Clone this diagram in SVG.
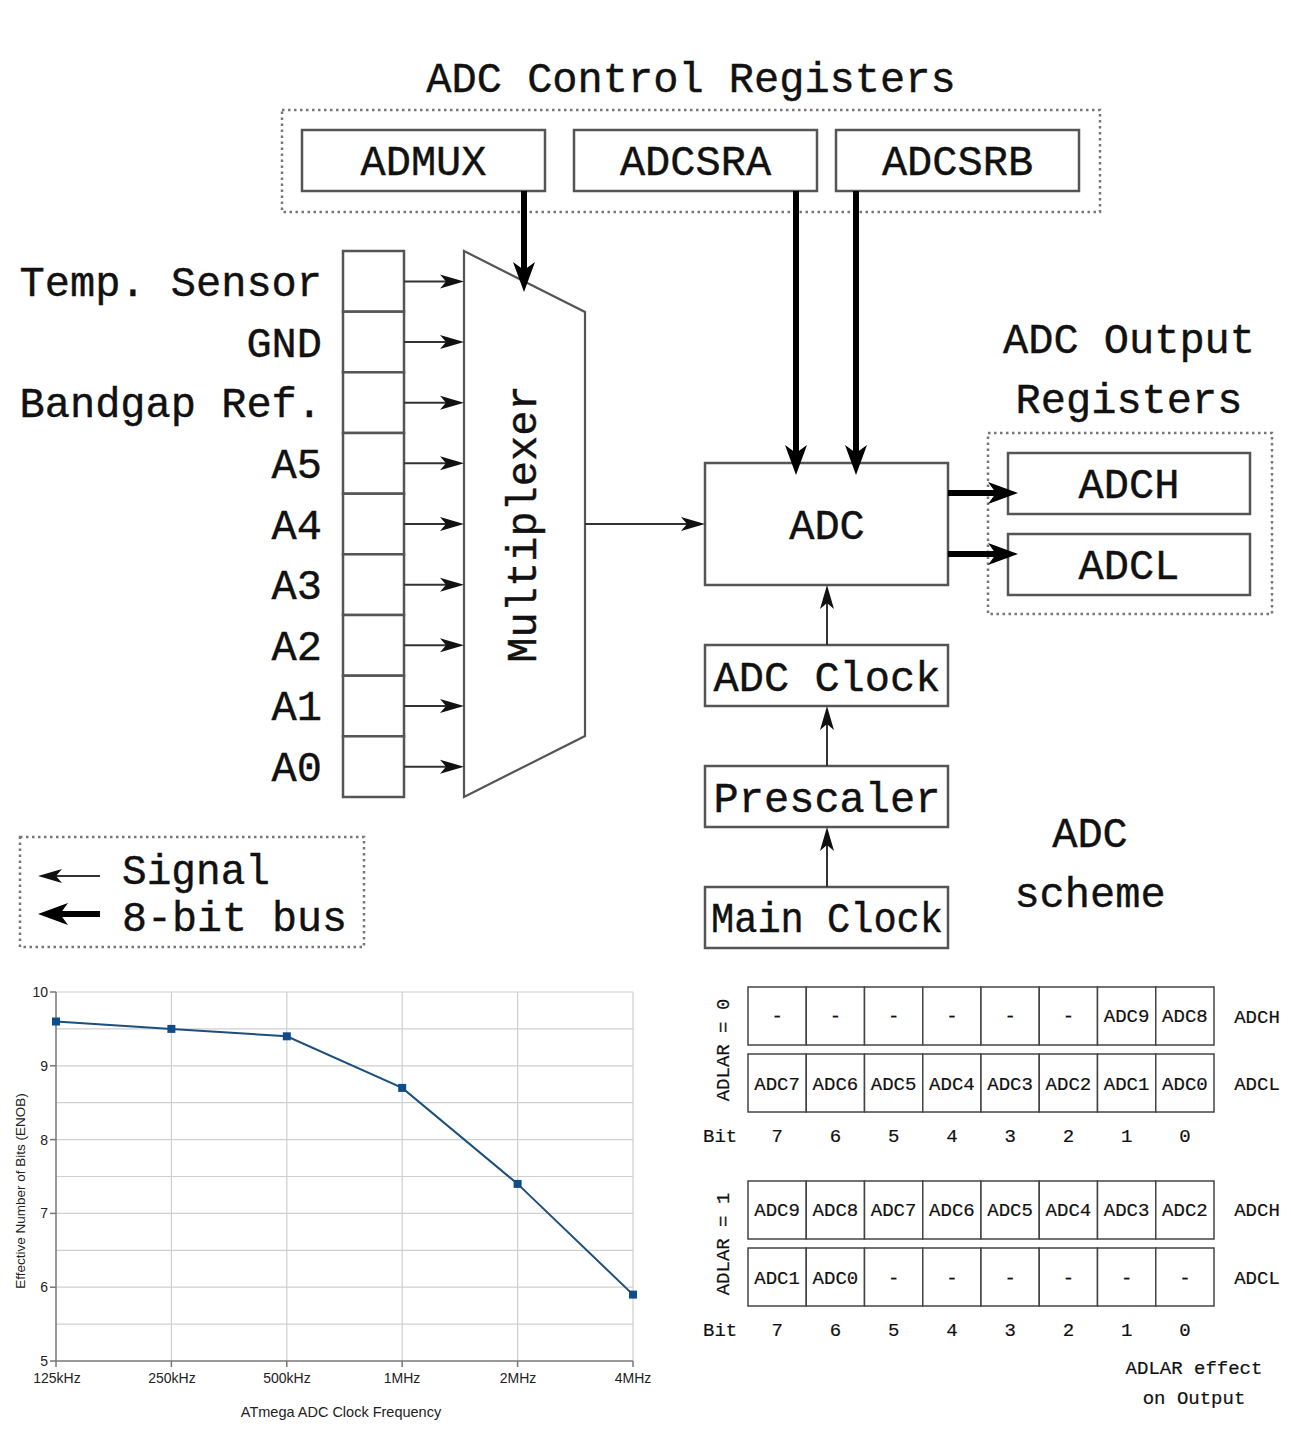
<svg xmlns="http://www.w3.org/2000/svg" width="1291" height="1433" viewBox="0 0 1291 1433">
<style>
.t{font-family:"Liberation Mono","DejaVu Sans Mono",monospace;font-size:42px;fill:#111;stroke:#111;stroke-width:0.4}
.s{font-family:"Liberation Mono","DejaVu Sans Mono",monospace;font-size:19px;fill:#111;stroke:#111;stroke-width:0.2}
.c{text-anchor:middle}
.e{text-anchor:end}
.box{fill:#fff;stroke:#555;stroke-width:2.5}
.dot{fill:none;stroke:#777;stroke-width:2.5;stroke-dasharray:2.5 3.5}
.thin{stroke:#333;stroke-width:2;fill:none;marker-end:url(#ah)}
.thick{stroke:#000;stroke-width:6;fill:none;marker-end:url(#bh)}
.cell{fill:#fff;stroke:#444;stroke-width:1.5}
.grid{stroke:#cfcfcf;stroke-width:1.2}
.ax{stroke:#777;stroke-width:1.5}
.ct{font-family:"Liberation Sans",Arial,sans-serif;font-size:14px;fill:#222}
</style>
<defs>
<marker id="ah" markerUnits="userSpaceOnUse" markerWidth="24" markerHeight="16" refX="16" refY="8" orient="auto"><path d="M0,1 L24,8 L0,15 L6,8 z" fill="#111"/></marker>
<marker id="bh" markerUnits="userSpaceOnUse" markerWidth="30" markerHeight="22" refX="18" refY="11" orient="auto"><path d="M0,0 L30,11 L0,22 L8,11 z" fill="#000"/></marker>
</defs>
<rect width="1291" height="1433" fill="#fff"/>

<g id="control-registers">
<text class="t c" x="691" y="92">ADC Control Registers</text>
<rect class="dot" x="282" y="110" width="818" height="102"/>
</g>
<g id="admux"><rect class="box" x="302" y="130" width="243" height="61"/><text class="t c" x="423.5" y="175">ADMUX</text></g>
<g id="adcsra"><rect class="box" x="574" y="130" width="243" height="61"/><text class="t c" x="695.5" y="175">ADCSRA</text></g>
<g id="adcsrb"><rect class="box" x="836" y="130" width="243" height="61"/><text class="t c" x="957.5" y="175">ADCSRB</text></g>

<g id="inputs">
<rect class="box" x="343" y="251" width="61" height="60.7"/>
<rect class="box" x="343" y="311.7" width="61" height="60.7"/>
<rect class="box" x="343" y="372.3" width="61" height="60.7"/>
<rect class="box" x="343" y="433" width="61" height="60.7"/>
<rect class="box" x="343" y="493.7" width="61" height="60.7"/>
<rect class="box" x="343" y="554.3" width="61" height="60.7"/>
<rect class="box" x="343" y="615" width="61" height="60.7"/>
<rect class="box" x="343" y="675.7" width="61" height="60.7"/>
<rect class="box" x="343" y="736.3" width="61" height="60.7"/>
<text class="t e" x="322" y="296">Temp. Sensor</text>
<text class="t e" x="322" y="357">GND</text>
<text class="t e" x="322" y="417">Bandgap Ref.</text>
<text class="t e" x="322" y="478">A5</text>
<text class="t e" x="322" y="539">A4</text>
<text class="t e" x="322" y="599">A3</text>
<text class="t e" x="322" y="660">A2</text>
<text class="t e" x="322" y="720">A1</text>
<text class="t e" x="322" y="781">A0</text>
</g>

<g id="multiplexer">
<path d="M464,251 L585,312 L585,736 L464,797 Z" fill="#fff" stroke="#555" stroke-width="2.2"/>
<text class="t c" transform="translate(536,524) rotate(-90)" x="0" y="0">Multiplexer</text>
</g>

<g id="adc"><rect class="box" x="705" y="463" width="243" height="122"/><text class="t c" x="827" y="539">ADC</text></g>

<g id="output-registers">
<text class="t c" x="1129" y="353">ADC Output</text>
<text class="t c" x="1129" y="413">Registers</text>
<rect class="dot" x="988" y="433" width="284" height="181"/>
</g>
<g id="adch"><rect class="box" x="1008" y="453" width="242" height="61"/><text class="t c" x="1129" y="498">ADCH</text></g>
<g id="adcl"><rect class="box" x="1008" y="534" width="242" height="61"/><text class="t c" x="1129" y="579">ADCL</text></g>

<g id="adc-clock"><rect class="box" x="705" y="645" width="243" height="61"/><text class="t c" x="827" y="691">ADC Clock</text></g>
<g id="prescaler"><rect class="box" x="705" y="766" width="243" height="61"/><text class="t c" x="827" y="812">Prescaler</text></g>
<g id="main-clock"><rect class="box" x="705" y="887" width="243" height="61"/><text class="t c" x="827" y="932" textLength="232" lengthAdjust="spacingAndGlyphs">Main Clock</text></g>

<g id="scheme-label">
<text class="t c" x="1090" y="847">ADC</text>
<text class="t c" x="1090" y="907">scheme</text>
</g>

<g id="legend">
<rect class="dot" x="20" y="837" width="344" height="110"/>
<line class="thin" x1="100" y1="876" x2="46" y2="876"/>
<line class="thick" x1="100" y1="914" x2="50" y2="914"/>
<text class="t" x="122" y="884" font-size="35" textLength="148" lengthAdjust="spacingAndGlyphs">Signal</text>
<text class="t" x="122" y="931" font-size="35" textLength="225" lengthAdjust="spacingAndGlyphs">8-bit bus</text>
</g>

<g id="connectors">
<line class="thick" x1="524" y1="191" x2="524" y2="280"/>
<line class="thick" x1="796" y1="191" x2="796" y2="463"/>
<line class="thick" x1="856" y1="191" x2="856" y2="463"/>
<line class="thin" x1="404" y1="281.5" x2="456" y2="281.5"/>
<line class="thin" x1="404" y1="342" x2="456" y2="342"/>
<line class="thin" x1="404" y1="402.7" x2="456" y2="402.7"/>
<line class="thin" x1="404" y1="463.3" x2="456" y2="463.3"/>
<line class="thin" x1="404" y1="524" x2="456" y2="524"/>
<line class="thin" x1="404" y1="584.7" x2="456" y2="584.7"/>
<line class="thin" x1="404" y1="645.3" x2="456" y2="645.3"/>
<line class="thin" x1="404" y1="706" x2="456" y2="706"/>
<line class="thin" x1="404" y1="766.7" x2="456" y2="766.7"/>
<line class="thin" x1="585" y1="524" x2="697" y2="524"/>
<line class="thick" x1="948" y1="493" x2="1006" y2="493"/>
<line class="thick" x1="948" y1="554" x2="1006" y2="554"/>
<line class="thin" x1="827" y1="645" x2="827" y2="593"/>
<line class="thin" x1="827" y1="766" x2="827" y2="714"/>
<line class="thin" x1="827" y1="887" x2="827" y2="835"/>
</g>

<g id="chart">
<g>
<line class="grid" x1="56" y1="992" x2="633" y2="992"/>
<line class="grid" x1="56" y1="1028.9" x2="633" y2="1028.9"/>
<line class="grid" x1="56" y1="1065.8" x2="633" y2="1065.8"/>
<line class="grid" x1="56" y1="1102.7" x2="633" y2="1102.7"/>
<line class="grid" x1="56" y1="1139.6" x2="633" y2="1139.6"/>
<line class="grid" x1="56" y1="1176.5" x2="633" y2="1176.5"/>
<line class="grid" x1="56" y1="1213.4" x2="633" y2="1213.4"/>
<line class="grid" x1="56" y1="1250.3" x2="633" y2="1250.3"/>
<line class="grid" x1="56" y1="1287.2" x2="633" y2="1287.2"/>
<line class="grid" x1="56" y1="1324.1" x2="633" y2="1324.1"/>
<line class="grid" x1="171.4" y1="992" x2="171.4" y2="1361"/>
<line class="grid" x1="286.8" y1="992" x2="286.8" y2="1361"/>
<line class="grid" x1="402.2" y1="992" x2="402.2" y2="1361"/>
<line class="grid" x1="517.6" y1="992" x2="517.6" y2="1361"/>
<line class="grid" x1="633" y1="992" x2="633" y2="1361"/>
</g>
<g>
<line class="ax" x1="56" y1="992" x2="56" y2="1361"/>
<line class="ax" x1="56" y1="1361" x2="633" y2="1361"/>
<line class="ax" x1="50" y1="992" x2="56" y2="992"/>
<line class="ax" x1="50" y1="1065.8" x2="56" y2="1065.8"/>
<line class="ax" x1="50" y1="1139.6" x2="56" y2="1139.6"/>
<line class="ax" x1="50" y1="1213.4" x2="56" y2="1213.4"/>
<line class="ax" x1="50" y1="1287.2" x2="56" y2="1287.2"/>
<line class="ax" x1="50" y1="1361" x2="56" y2="1361"/>
<line class="ax" x1="56" y1="1361" x2="56" y2="1367"/>
<line class="ax" x1="171.4" y1="1361" x2="171.4" y2="1367"/>
<line class="ax" x1="286.8" y1="1361" x2="286.8" y2="1367"/>
<line class="ax" x1="402.2" y1="1361" x2="402.2" y2="1367"/>
<line class="ax" x1="517.6" y1="1361" x2="517.6" y2="1367"/>
<line class="ax" x1="633" y1="1361" x2="633" y2="1367"/>
</g>
<g class="ct">
<text x="48" y="997" text-anchor="end">10</text>
<text x="48" y="1071" text-anchor="end">9</text>
<text x="48" y="1145" text-anchor="end">8</text>
<text x="48" y="1218" text-anchor="end">7</text>
<text x="48" y="1292" text-anchor="end">6</text>
<text x="48" y="1366" text-anchor="end">5</text>
<text x="57" y="1383" text-anchor="middle">125kHz</text>
<text x="172" y="1383" text-anchor="middle">250kHz</text>
<text x="287" y="1383" text-anchor="middle">500kHz</text>
<text x="402" y="1383" text-anchor="middle">1MHz</text>
<text x="518" y="1383" text-anchor="middle">2MHz</text>
<text x="633" y="1383" text-anchor="middle">4MHz</text>
<text x="341" y="1417" text-anchor="middle" font-size="14.5">ATmega ADC Clock Frequency</text>
<text transform="translate(25,1191) rotate(-90)" text-anchor="middle" font-size="13.5">Effective Number of Bits (ENOB)</text>
</g>
<polyline points="56,1021.5 171.4,1028.9 286.8,1036.3 402.2,1087.9 517.6,1183.9 633,1294.6" fill="none" stroke="#1d4f7c" stroke-width="2"/>
<g fill="#0f4c8a">
<rect x="52" y="1017.5" width="8" height="8"/>
<rect x="167.4" y="1024.9" width="8" height="8"/>
<rect x="282.8" y="1032.3" width="8" height="8"/>
<rect x="398.2" y="1083.9" width="8" height="8"/>
<rect x="513.6" y="1179.9" width="8" height="8"/>
<rect x="629" y="1290.6" width="8" height="8"/>
</g>
</g>

<g id="adlar0">
<text class="s c" transform="translate(729,1050) rotate(-90)">ADLAR = 0</text>
<g>
<rect class="cell" x="748" y="987" width="58.25" height="58"/>
<rect class="cell" x="806.25" y="987" width="58.25" height="58"/>
<rect class="cell" x="864.5" y="987" width="58.25" height="58"/>
<rect class="cell" x="922.75" y="987" width="58.25" height="58"/>
<rect class="cell" x="981" y="987" width="58.25" height="58"/>
<rect class="cell" x="1039.25" y="987" width="58.25" height="58"/>
<rect class="cell" x="1097.5" y="987" width="58.25" height="58"/>
<rect class="cell" x="1155.75" y="987" width="58.25" height="58"/>
<rect class="cell" x="748" y="1054" width="58.25" height="58"/>
<rect class="cell" x="806.25" y="1054" width="58.25" height="58"/>
<rect class="cell" x="864.5" y="1054" width="58.25" height="58"/>
<rect class="cell" x="922.75" y="1054" width="58.25" height="58"/>
<rect class="cell" x="981" y="1054" width="58.25" height="58"/>
<rect class="cell" x="1039.25" y="1054" width="58.25" height="58"/>
<rect class="cell" x="1097.5" y="1054" width="58.25" height="58"/>
<rect class="cell" x="1155.75" y="1054" width="58.25" height="58"/>
</g>
<text class="s c" x="777.1" y="1022">-</text>
<text class="s c" x="835.4" y="1022">-</text>
<text class="s c" x="893.6" y="1022">-</text>
<text class="s c" x="951.9" y="1022">-</text>
<text class="s c" x="1010.1" y="1022">-</text>
<text class="s c" x="1068.4" y="1022">-</text>
<text class="s c" x="1126.6" y="1022">ADC9</text>
<text class="s c" x="1184.9" y="1022">ADC8</text>
<text class="s c" x="1257" y="1023">ADCH</text>
<text class="s c" x="777.1" y="1090">ADC7</text>
<text class="s c" x="835.4" y="1090">ADC6</text>
<text class="s c" x="893.6" y="1090">ADC5</text>
<text class="s c" x="951.9" y="1090">ADC4</text>
<text class="s c" x="1010.1" y="1090">ADC3</text>
<text class="s c" x="1068.4" y="1090">ADC2</text>
<text class="s c" x="1126.6" y="1090">ADC1</text>
<text class="s c" x="1184.9" y="1090">ADC0</text>
<text class="s c" x="1257" y="1090">ADCL</text>
<text class="s" x="703" y="1142">Bit</text>
<text class="s c" x="777.1" y="1142">7</text>
<text class="s c" x="835.4" y="1142">6</text>
<text class="s c" x="893.6" y="1142">5</text>
<text class="s c" x="951.9" y="1142">4</text>
<text class="s c" x="1010.1" y="1142">3</text>
<text class="s c" x="1068.4" y="1142">2</text>
<text class="s c" x="1126.6" y="1142">1</text>
<text class="s c" x="1184.9" y="1142">0</text>
</g>

<g id="adlar1">
<text class="s c" transform="translate(729,1244) rotate(-90)">ADLAR = 1</text>
<g>
<rect class="cell" x="748" y="1181" width="58.25" height="58"/>
<rect class="cell" x="806.25" y="1181" width="58.25" height="58"/>
<rect class="cell" x="864.5" y="1181" width="58.25" height="58"/>
<rect class="cell" x="922.75" y="1181" width="58.25" height="58"/>
<rect class="cell" x="981" y="1181" width="58.25" height="58"/>
<rect class="cell" x="1039.25" y="1181" width="58.25" height="58"/>
<rect class="cell" x="1097.5" y="1181" width="58.25" height="58"/>
<rect class="cell" x="1155.75" y="1181" width="58.25" height="58"/>
<rect class="cell" x="748" y="1248" width="58.25" height="58"/>
<rect class="cell" x="806.25" y="1248" width="58.25" height="58"/>
<rect class="cell" x="864.5" y="1248" width="58.25" height="58"/>
<rect class="cell" x="922.75" y="1248" width="58.25" height="58"/>
<rect class="cell" x="981" y="1248" width="58.25" height="58"/>
<rect class="cell" x="1039.25" y="1248" width="58.25" height="58"/>
<rect class="cell" x="1097.5" y="1248" width="58.25" height="58"/>
<rect class="cell" x="1155.75" y="1248" width="58.25" height="58"/>
</g>
<text class="s c" x="777.1" y="1216">ADC9</text>
<text class="s c" x="835.4" y="1216">ADC8</text>
<text class="s c" x="893.6" y="1216">ADC7</text>
<text class="s c" x="951.9" y="1216">ADC6</text>
<text class="s c" x="1010.1" y="1216">ADC5</text>
<text class="s c" x="1068.4" y="1216">ADC4</text>
<text class="s c" x="1126.6" y="1216">ADC3</text>
<text class="s c" x="1184.9" y="1216">ADC2</text>
<text class="s c" x="1257" y="1216">ADCH</text>
<text class="s c" x="777.1" y="1284">ADC1</text>
<text class="s c" x="835.4" y="1284">ADC0</text>
<text class="s c" x="893.6" y="1284">-</text>
<text class="s c" x="951.9" y="1284">-</text>
<text class="s c" x="1010.1" y="1284">-</text>
<text class="s c" x="1068.4" y="1284">-</text>
<text class="s c" x="1126.6" y="1284">-</text>
<text class="s c" x="1184.9" y="1284">-</text>
<text class="s c" x="1257" y="1284">ADCL</text>
<text class="s" x="703" y="1336">Bit</text>
<text class="s c" x="777.1" y="1336">7</text>
<text class="s c" x="835.4" y="1336">6</text>
<text class="s c" x="893.6" y="1336">5</text>
<text class="s c" x="951.9" y="1336">4</text>
<text class="s c" x="1010.1" y="1336">3</text>
<text class="s c" x="1068.4" y="1336">2</text>
<text class="s c" x="1126.6" y="1336">1</text>
<text class="s c" x="1184.9" y="1336">0</text>
<text class="s c" x="1194" y="1374" font-size="20">ADLAR effect</text>
<text class="s c" x="1194" y="1404" font-size="20">on Output</text>
</g>
</svg>
